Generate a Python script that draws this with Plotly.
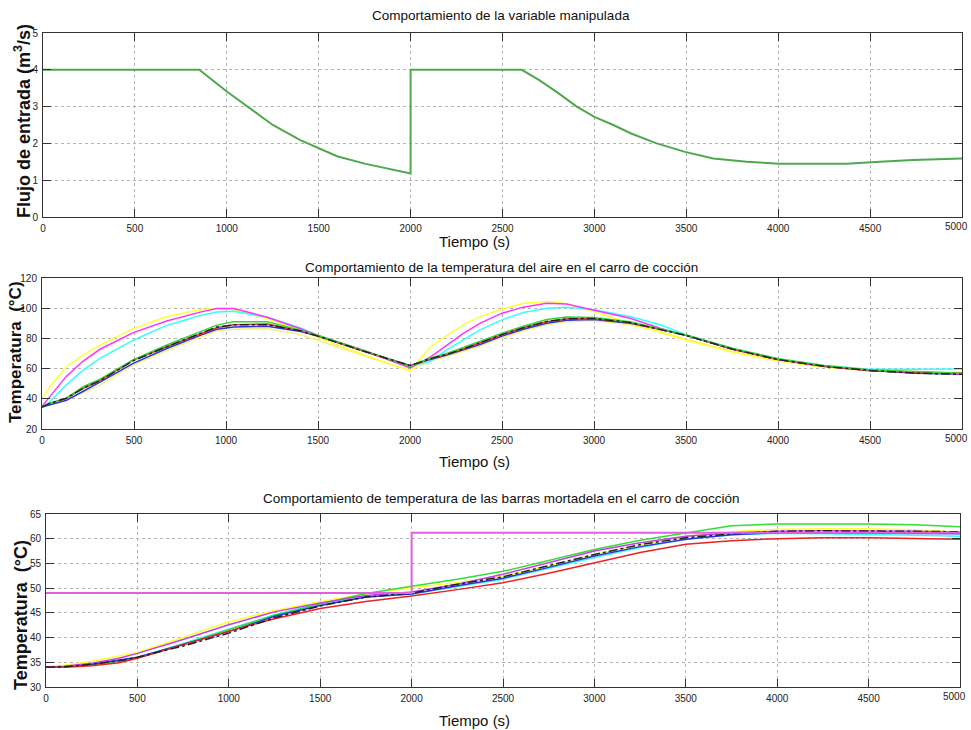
import plotly.graph_objects as go

# ---------------- data ----------------
# Panel 1: manipulated variable (inlet flow)
t_flow = [0, 850, 1000, 1100, 1250, 1400, 1500, 1600, 1750, 1900, 2000, 2000, 2605, 2700, 2800, 2904,
          3000, 3103, 3200, 3339, 3493, 3647, 3828, 4009, 4190, 4372, 4553, 4734, 5000]
flow = [4.0, 4.0, 3.41, 3.05, 2.5, 2.09, 1.86, 1.65, 1.45, 1.29, 1.18, 4.0, 4.0, 3.72, 3.38, 3.0,
        2.72, 2.5, 2.27, 2.0, 1.77, 1.59, 1.5, 1.45, 1.44, 1.45, 1.5, 1.55, 1.59]

# Panel 2: air temperature in the cooking cart
t_air = [0, 42, 133, 224, 315, 496, 678, 860, 950, 1042, 1224, 1405, 1500, 1750, 2000,
         2109, 2200, 2290, 2380, 2500, 2616, 2743, 2850, 3000, 3196, 3359, 3500, 3750, 4000,
         4250, 4500, 4750, 5000]
air_yellow = [40, 48, 61.4, 69, 75.6, 86.5, 94.5, 99, 100, 99, 93, 85.5, 80.5, 69, 58.5,
              74, 82, 89, 94.4, 99.3, 103.3, 104.4, 103, 97.8, 90, 84, 79, 71, 65,
              61, 58.5, 57.5, 57.5]
air_magenta = [35, 41.5, 55, 65, 72.8, 83.8, 91.5, 97.4, 99.8, 99.8, 94, 86.4, 82, 72, 60.5,
               67.5, 75.6, 83.3, 90, 96.7, 100.7, 103.3, 102.8, 98.9, 93.4, 86.7, 82, 73, 66,
               61.5, 59, 57.5, 56.5]
air_cyan = [35, 38, 49.3, 59, 66.8, 78.8, 88.6, 95.2, 97.5, 98, 94, 87, 82, 72, 61.5,
            64.6, 72.4, 79, 85.7, 92.3, 97.2, 100, 100.7, 98.9, 94.5, 89, 82.5, 73.5, 66.5,
            62, 59.5, 59.5, 59.8]
air_green = [34.5, 37, 40.4, 48, 53, 65.7, 75.6, 84.4, 88.8, 91, 91, 85.5, 82, 72, 61.5,
             66.8, 70, 74, 78, 83.5, 88, 92.5, 94.2, 93.8, 91, 86.2, 82.2, 73.5, 66.5,
             62, 59, 58, 57]
air_red = [34.5, 37, 40.4, 47, 52, 65.7, 74.5, 83, 87, 89, 89.5, 85, 81.5, 71.5, 61.5,
           66.5, 69.5, 73, 77, 82.5, 87, 91, 92.8, 93, 90.5, 86, 82, 73, 66,
           61.5, 58.5, 57.5, 57]
air_black = [34.5, 37, 40.4, 47, 52, 65.2, 74.5, 83, 87.5, 89, 89, 85, 81.5, 71.5, 62,
             66.5, 69.5, 73, 77, 82.5, 87, 91.2, 93, 93.2, 90.5, 86, 82, 73, 66,
             61.5, 58.8, 57, 56.2]
air_blue = [34.5, 36, 39, 45, 51, 63.5, 73.3, 82, 86, 87.6, 88, 84.5, 81.5, 71.5, 62,
            66, 69, 72.5, 76, 81.5, 86, 90, 92, 92.5, 90, 86, 82, 73, 66,
            61.5, 58.8, 57, 56.2]
air_lightyellow = [35, 37, 40, 44, 49, 62.4, 72, 81, 85, 86, 86.5, 82.5, 78.6, 68.5, 59,
                   65, 68, 71.5, 75, 80.5, 85, 89, 91, 91.8, 89, 84.5, 79.5, 71.5, 65,
                   61, 58.8, 57.5, 57]

# Panel 3: mortadella bar temperature
t_sp = [0, 2000, 2000, 5000]
setpoint = [49.0, 49.0, 61.2, 61.2]
t_bar = [0, 100, 250, 400, 500, 750, 1000, 1250, 1500, 1750, 2000, 2250, 2500, 2750, 3000,
         3250, 3500, 3750, 4000, 4250, 4500, 4750, 5000]
bar_yellow = [34.2, 34.4, 35.2, 36.3, 37.0, 40.0, 43.2, 45.5, 47.3, 48.8, 50.1, 51.1, 52.4, 54.5, 56.8,
              58.8, 60.5, 61.4, 61.9, 62.0, 62.0, 61.8, 61.3]
bar_magenta = [34.0, 34.2, 34.8, 35.8, 36.8, 39.6, 42.6, 45.2, 47.0, 48.5, 49.2, 50.8, 52.8, 55.2, 57.5,
               59.2, 60.5, 61.2, 61.5, 61.6, 61.6, 61.5, 61.3]
bar_green = [34.0, 34.1, 34.5, 35.2, 35.9, 38.6, 41.6, 44.5, 46.8, 48.9, 50.4, 51.8, 53.4, 55.6, 57.8,
             59.7, 61.2, 62.6, 63.0, 63.0, 63.0, 62.8, 62.4]
bar_cyan = [34.0, 34.1, 34.5, 35.2, 35.9, 38.8, 41.6, 44.6, 46.9, 48.2, 48.8, 50.3, 51.8, 54.0, 56.2,
            58.2, 59.9, 60.8, 61.1, 61.0, 60.9, 60.7, 60.5]
bar_blue = [34.0, 34.1, 34.6, 35.4, 36.0, 38.6, 41.2, 44.3, 46.5, 48.2, 48.8, 50.5, 52.0, 54.2, 56.5,
            58.4, 59.9, 60.8, 61.2, 61.2, 61.1, 61.0, 61.0]
bar_black = [34.0, 34.1, 34.6, 35.3, 36.0, 38.3, 40.9, 44.0, 46.4, 48.2, 49.0, 50.8, 52.3, 54.5, 56.8,
             58.8, 60.2, 61.0, 61.5, 61.6, 61.6, 61.5, 61.4]
bar_red = [34.0, 34.0, 34.3, 34.9, 35.8, 38.5, 41.3, 43.8, 45.9, 47.3, 48.4, 49.7, 51.1, 53.0, 55.1,
           57.2, 58.9, 59.6, 60.0, 60.2, 60.2, 60.1, 59.9]

x_ticks = [0, 500, 1000, 1500, 2000, 2500, 3000, 3500, 4000, 4500, 5000]
x_ticktext = ["0", "500", "1000", "1500", "2000", "2500", "3000", "3500", "4000", "4500", "5000"]
flow_ticks = [0, 1, 2, 3, 4, 5]
air_ticks = [20, 40, 60, 80, 100, 120]
bar_ticks = [30, 35, 40, 45, 50, 55, 60, 65]

titles = ["Comportamiento de la variable manipulada",
          "Comportamiento de la temperatura del aire en el carro de cocción",
          "Comportamiento de temperatura de las barras mortadela en el carro de cocción"]
xlabel = "Tiempo (s)"
ylabels = ["Flujo de entrada (m<sup>3</sup>/s)", "Temperatura  (°C)", "Temperatura  (°C)"]

# ---------------- figure ----------------
W, H = 971, 730
NARROW = "Liberation Sans Narrow, Arial Narrow, Liberation Sans, Arial, sans-serif"
BOLD = "Liberation Sans, Arial, sans-serif"
TICKFONT = dict(family=NARROW, size=10, color="#222222")

fig = go.Figure()

def px_x(p):
    return p / W

def px_y(p):
    return 1 - p / H

# panel pixel boxes: (left, right, top, bottom)
boxes = [(43, 962, 33, 217), (42, 962, 278, 429), (46, 960, 514, 687)]
title_bottom = [25, 277, 508]
xlabel_top = [231, 451, 710]
ylabel_x = [22, 15, 21]
ylabel_y = [121, 352, 615]
ylabel_size = [18, 17, 18]

lw = 1.5
fig.add_trace(go.Scatter(x=t_flow, y=flow, mode="lines", line=dict(color="#4ea84e", width=2),
                         xaxis="x", yaxis="y", showlegend=False))

air_series = [
    (air_lightyellow, "#f2f27a"),
    (air_yellow, "#ffff33"),
    (air_cyan, "#33ffff"),
    (air_blue, "#3030e0"),
    (air_magenta, "#ff33ff"),
    (air_red, "#e83030"),
    (air_green, "#33d633"),
    (air_black, "#222222"),
]
for ys, c in air_series:
    dash = "dashdot" if c == "#222222" else "solid"
    fig.add_trace(go.Scatter(x=t_air, y=ys, mode="lines", line=dict(color=c, width=lw, dash=dash),
                             xaxis="x2", yaxis="y2", showlegend=False))

bar_series = [
    (bar_yellow, "#ffff33"),
    (bar_cyan, "#33ffff"),
    (bar_green, "#33dd33"),
    (bar_blue, "#3030e0"),
    (bar_magenta, "#c040e8"),
    (bar_red, "#ee2020"),
    (bar_black, "#222222"),
]
for ys, c in bar_series:
    dash = "dashdot" if c == "#222222" else "solid"
    fig.add_trace(go.Scatter(x=t_bar, y=ys, mode="lines", line=dict(color=c, width=lw, dash=dash),
                             xaxis="x3", yaxis="y3", showlegend=False))
fig.add_trace(go.Scatter(x=t_sp, y=setpoint, mode="lines", line=dict(color="#e060e0", width=2),
                         xaxis="x3", yaxis="y3", showlegend=False))

ax_common = dict(showline=True, linecolor="#333333", linewidth=1, mirror="ticks",
                 ticks="inside", ticklen=8, tickcolor="#333333",
                 showgrid=True, gridcolor="#b4b4b4", griddash="dot", gridwidth=1,
                 zeroline=False, automargin=False, tickfont=TICKFONT)

yranges = [(0, 5, flow_ticks), (20, 120, air_ticks), (30, 65, bar_ticks)]
layout = dict(width=W, height=H, margin=dict(l=0, r=0, t=0, b=0, autoexpand=False),
              paper_bgcolor="white", plot_bgcolor="white", showlegend=False)
annotations = []
for i, (box, (y0, y1, yt)) in enumerate(zip(boxes, yranges)):
    l, r, t, b = box
    sfx = "" if i == 0 else str(i + 1)
    # last x tick label is drawn as an annotation so it can sit flush against the right edge
    layout["xaxis" + sfx] = dict(ax_common, domain=[px_x(l), px_x(r)], range=[0, 5000],
                                 tickvals=x_ticks, ticktext=x_ticktext[:-1] + [""],
                                 anchor="y" + sfx, ticklabelstandoff=2)
    layout["yaxis" + sfx] = dict(ax_common, domain=[px_y(b), px_y(t)], range=[y0, y1],
                                 tickvals=yt, anchor="x" + sfx, ticklabelstandoff=2)
    annotations.append(dict(text=x_ticktext[-1], x=x_ticks[-1], xref="x" + sfx, xanchor="right",
                            xshift=8, y=px_y(b + 2), yref="paper", yanchor="top", showarrow=False,
                            font=TICKFONT))
    annotations.append(dict(text=titles[i], x=px_x(501), y=px_y(title_bottom[i]), xref="paper", yref="paper",
                            xanchor="center", yanchor="bottom", showarrow=False,
                            font=dict(family=NARROW, size=13.5, color="#111111")))
    annotations.append(dict(text=xlabel, x=px_x(474), y=px_y(xlabel_top[i]), xref="paper", yref="paper",
                            xanchor="center", yanchor="top", showarrow=False,
                            font=dict(family=NARROW, size=15, color="#111111")))
    annotations.append(dict(text="<b>" + ylabels[i] + "</b>", x=px_x(ylabel_x[i]), y=px_y(ylabel_y[i]),
                            xref="paper", yref="paper", xanchor="center", yanchor="middle",
                            textangle=-90, showarrow=False,
                            font=dict(family=BOLD, size=ylabel_size[i], color="#111111")))
layout["annotations"] = annotations
fig.update_layout(**layout)
fig.write_html("out.html")
